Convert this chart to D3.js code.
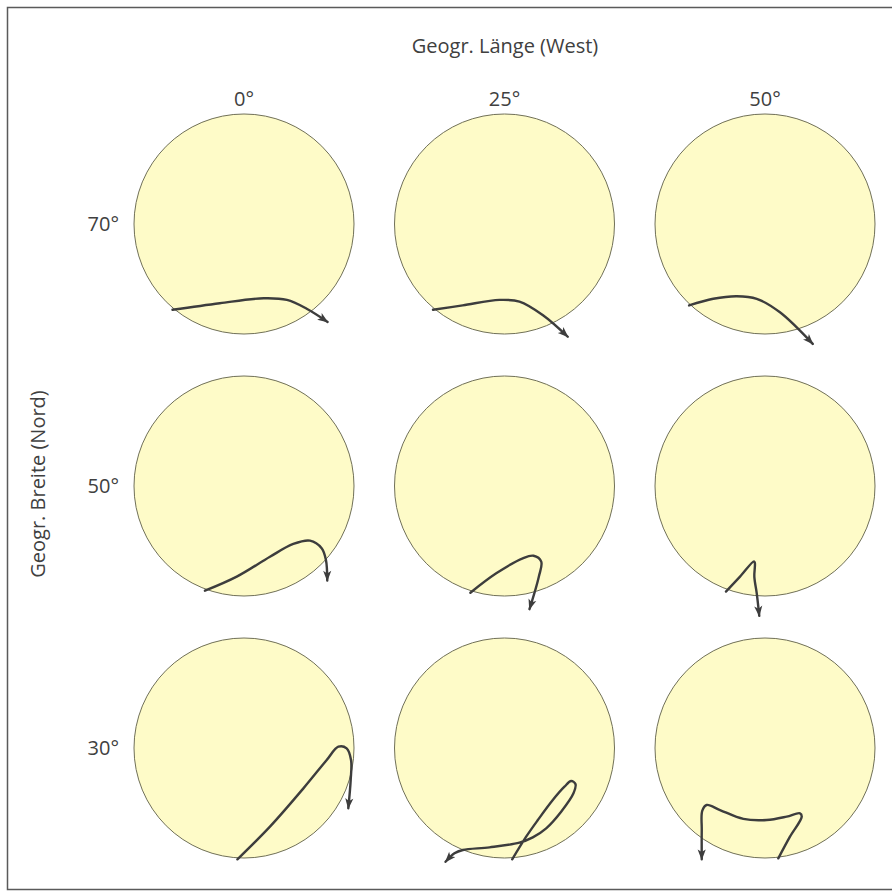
<!DOCTYPE html>
<html><head><meta charset="utf-8">
<script src="https://cdn.jsdelivr.net/npm/d3@7"></script>
<style>
html,body{margin:0;padding:0;background:#fff;}
svg{display:block;}
text{font-family:"Open Sans",sans-serif;fill:#404040;}
</style></head>
<body>
<script>
// Column / row categories
const longitudes = ["0°", "25°", "50°"];
const latitudes = ["70°", "50°", "30°"];
const xTitle = "Geogr. Länge (West)";
const yTitle = "Geogr. Breite (Nord)";

// Track points per panel, in units of circle radius = 100 (x right, y up), start -> arrow tip
const track_70_0  = [[-65,-78],[-22,-72],[18,-67.5],[39,-69],[57,-77],[76,-89]];
const track_70_25 = [[-65,-78],[-38,-74],[-4.5,-69],[13.6,-70.6],[35,-83],[57.5,-102.5]];
const track_70_50 = [[-69,-74],[-47,-68],[-25.7,-65.7],[-7.5,-68],[13.6,-80.3],[43.4,-109]];
const track_50_0  = [[-35.5,-95.2],[-6.6,-82.4],[23.6,-64.3],[44.8,-52.7],[60,-49.7],[70.6,-56.6],[74.5,-67.3],[75.7,-86]];
const track_50_25 = [[-31,-97],[-7.5,-79.4],[16.6,-65.7],[26.4,-63.4],[33.4,-68.8],[31.2,-82.4],[22.7,-112]];
const track_50_50 = [[-35.5,-96],[-22.7,-82.4],[-10,-68.5],[-9.2,-70],[-9.7,-82.4],[-7.5,-97.6],[-5.2,-118]];
const track_30_0  = [[-6,-101.2],[23.6,-71.5],[54,-36.7],[75.2,-10.9],[85.8,1.2],[93.3,-0.3],[97.3,-10.9],[97,-29],[94.8,-54.8]];
const track_30_25 = [[7,-101.2],[19.7,-80.6],[30.3,-65.5],[43.9,-47.3],[54.5,-35.2],[60.6,-30],[64.5,-32.7],[62.7,-41.2],[51.5,-57.9],[37.9,-73],[25.7,-81.2],[13.6,-86],[-13.6,-90.3],[-37.9,-92.7],[-45.5,-95.7],[-53.6,-103.4]];
const track_30_50 = [[12.1,-100.3],[22.7,-80.6],[33.4,-62.4],[31.8,-59.4],[19.7,-62.4],[1.5,-65.5],[-19.7,-64.5],[-40.9,-56.4],[-53,-51.8],[-57,-57],[-57.5,-74.5],[-57.5,-101.2]];

const panels = [
  {lat:"70°", lon:"0°",  track:track_70_0},
  {lat:"70°", lon:"25°", track:track_70_25},
  {lat:"70°", lon:"50°", track:track_70_50},
  {lat:"50°", lon:"0°",  track:track_50_0},
  {lat:"50°", lon:"25°", track:track_50_25},
  {lat:"50°", lon:"50°", track:track_50_50},
  {lat:"30°", lon:"0°",  track:track_30_0},
  {lat:"30°", lon:"25°", track:track_30_25},
  {lat:"30°", lon:"50°", track:track_30_50}
];

const W = 892, H = 892, R = 110;
const svg = d3.select("body").append("svg").attr("width", W).attr("height", H);

// frame
svg.append("rect").attr("x", 7.5).attr("y", 7.5).attr("width", 920).attr("height", 882)
  .attr("fill", "none").attr("stroke", "#5a5a5a").attr("stroke-width", 1.5);

const col = d3.scalePoint().domain(longitudes).range([244, 765]);
const row = d3.scalePoint().domain(latitudes).range([224, 748]);
const lx = d3.scaleLinear().domain([-100, 100]).range([-R, R]);
const ly = d3.scaleLinear().domain([-100, 100]).range([R, -R]);

const defs = svg.append("defs");
defs.append("marker").attr("id", "arr")
  .attr("viewBox", "0 0 12 10").attr("refX", 11).attr("refY", 5)
  .attr("markerWidth", 12).attr("markerHeight", 9)
  .attr("markerUnits", "userSpaceOnUse").attr("orient", "auto")
  .append("path").attr("d", "M0,0.5 L12,5 L0,9.5 L3,5 Z").attr("fill", "#3d3d3d");

// titles
svg.append("text").attr("x", 505).attr("y", 53).attr("text-anchor", "middle")
  .attr("font-size", 20).text(xTitle);
svg.append("text").attr("transform", "translate(45,484) rotate(-90)").attr("text-anchor", "middle")
  .attr("font-size", 20).text(yTitle);

// column and row labels
svg.selectAll(".lon").data(longitudes).join("text").attr("class", "lon")
  .attr("x", d => col(d)).attr("y", 106).attr("text-anchor", "middle").attr("font-size", 20).text(d => d);
svg.selectAll(".lat").data(latitudes).join("text").attr("class", "lat")
  .attr("x", 119).attr("y", d => row(d) + 7).attr("text-anchor", "end").attr("font-size", 20).text(d => d);

const line = d3.line().x(d => lx(d[0])).y(d => ly(d[1])).curve(d3.curveCatmullRom.alpha(0.5));

const g = svg.selectAll(".panel").data(panels).join("g").attr("class", "panel")
  .attr("transform", d => `translate(${col(d.lon)},${row(d.lat)})`);
g.append("circle").attr("r", R).attr("fill", "#fefbc8").attr("stroke", "#707058").attr("stroke-width", 1);
g.append("path").attr("d", d => line(d.track)).attr("fill", "none")
  .attr("stroke", "#3d3d3d").attr("stroke-width", 2.4).attr("stroke-linecap", "round")
  .attr("stroke-linejoin", "round").attr("marker-end", "url(#arr)");
</script>
</body></html>
